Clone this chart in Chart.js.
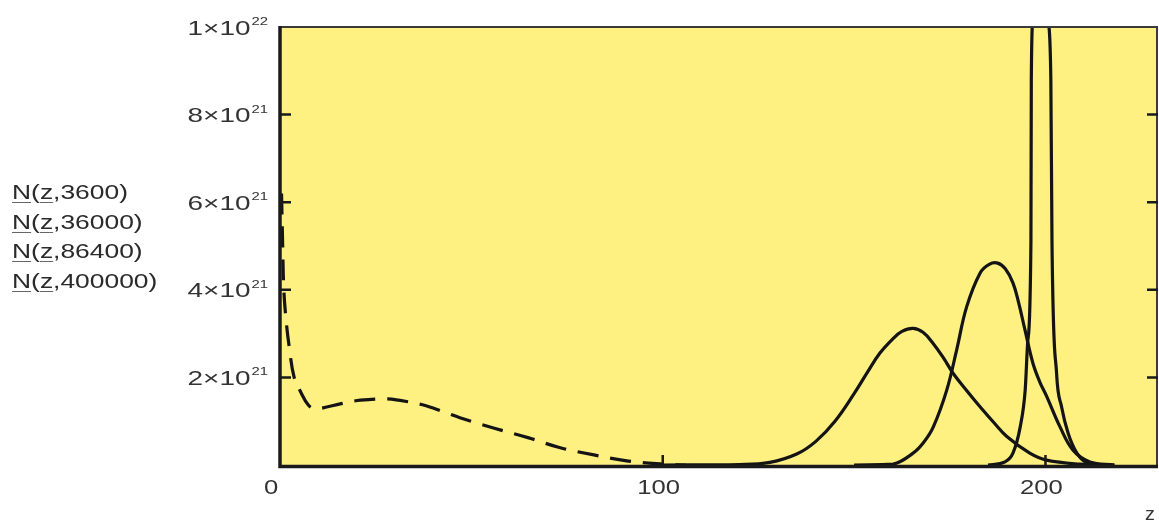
<!DOCTYPE html>
<html>
<head>
<meta charset="utf-8">
<script src="https://cdn.jsdelivr.net/npm/chart.js@4.4.1/dist/chart.umd.min.js"></script>
<style>
  body { margin: 0; background: #fff; }
  #wrap { position: relative; width: 1159px; height: 523px; }
  #legend { position: absolute; left: 12px; top: 178px; font-family: "Liberation Sans", Arial, sans-serif; font-size: 20px; color: #2a2a2a; }
  #legend div { height: 29.6px; line-height: 29.6px; transform: scaleX(1.32); transform-origin: left center; white-space: nowrap; }
  #legend u { text-decoration-thickness: 1px; text-underline-offset: 3px; text-decoration-color: #666; }
</style>
</head>
<body>
<div id="wrap">
  <canvas id="chart"></canvas>
  <div id="legend"></div>
</div>
<script>
// N(z,t) in units of 1e21, z along the x axis
const seriesNames = ['N(z,3600)', 'N(z,36000)', 'N(z,86400)', 'N(z,400000)'];

const z3600 = [0.4, 0.7, 1.0, 1.6, 2.4, 3.7, 5.5, 7.3, 9, 11, 16, 21, 28, 31, 37, 40, 47, 56, 65, 73, 82, 91, 100, 106];
const n3600 = [6.2, 5.0, 4.0, 3.3, 2.7, 2.0, 1.65, 1.38, 1.28, 1.3, 1.4, 1.48, 1.51, 1.48, 1.38, 1.3, 1.08, 0.84, 0.62, 0.4, 0.23, 0.09, 0.02, 0];

const z36000 = [100, 120, 128, 135, 140, 145, 150, 153.5, 156.7, 160, 162.5, 165.4, 168, 170.6, 173.3, 175.9, 179.5, 182.9, 186.5, 189.9, 195.9, 200.3, 209, 218];
const n36000 = [0, 0.01, 0.06, 0.25, 0.54, 1.0, 1.63, 2.12, 2.55, 2.87, 3.05, 3.12, 3.03, 2.78, 2.45, 2.09, 1.69, 1.33, 0.97, 0.65, 0.27, 0.11, 0.02, 0];

const z86400 = [150, 160.2, 165.4, 168.2, 170.7, 174.2, 176.8, 179.4, 182.9, 185.3, 187.5, 189.5, 191.5, 193, 194.6, 196.7, 198.5, 200.4, 203.8, 207.2, 211.6, 218];
const n86400 = [0, 0.02, 0.27, 0.52, 0.87, 1.71, 2.63, 3.61, 4.38, 4.58, 4.61, 4.48, 4.16, 3.7, 3.1, 2.33, 1.9, 1.55, 0.87, 0.34, 0.07, 0];

const z400000 = [185, 189.4, 191.5, 193.4, 194.7, 195.4, 196.2, 196.3, 196.7, 198.7, 200.7, 201.4, 201.7, 202.9, 204.2, 205.9, 208.2, 210.8, 214];
const n400000 = [0, 0.07, 0.27, 0.87, 1.71, 2.85, 5.1, 8.8, 10.2, 13, 10.2, 8.8, 5.1, 2.09, 1.33, 0.73, 0.27, 0.05, 0];

const xTicks = [0, 100, 200];
const yTicks = [2, 4, 6, 8, 10];
const yMantissa = ['2', '4', '6', '8', '1'];
const yExponent = ['21', '21', '21', '21', '22'];

const pts = (xs, ys) => xs.map((x, i) => ({ x: x, y: ys[i] }));

document.getElementById('legend').innerHTML = seriesNames
  .map(s => '<div>' + s.replace('N(z', '<u>N</u>(<u>z</u>') + '</div>').join('');

const lineColor = '#141414';
const font = '"Liberation Sans", Arial, sans-serif';

function stretched(ctx, text, x, y, align, sx) {
  ctx.save();
  ctx.translate(x, y);
  ctx.scale(sx, 1);
  ctx.textAlign = align;
  ctx.fillText(text, 0, 0);
  ctx.restore();
}

const framePlugin = {
  id: 'frame',
  beforeDraw(chart) {
    const { ctx, chartArea: a } = chart;
    ctx.save();
    ctx.fillStyle = '#fff';
    ctx.fillRect(0, 0, chart.width, chart.height);
    ctx.fillStyle = '#fef081';
    ctx.fillRect(a.left, a.top, a.right - a.left, a.bottom - a.top);
    ctx.restore();
  },
  afterDatasetsDraw(chart) {
    const { ctx, chartArea: a, scales: { x, y } } = chart;
    ctx.save();
    // frame
    ctx.strokeStyle = '#3a3a3a';
    ctx.lineWidth = 2;
    ctx.beginPath();
    ctx.moveTo(a.left, a.top); ctx.lineTo(a.right, a.top);
    ctx.moveTo(a.right - 1, a.top); ctx.lineTo(a.right - 1, a.bottom);
    ctx.stroke();
    ctx.strokeStyle = '#1a1a1a';
    ctx.lineWidth = 3.5;
    ctx.beginPath();
    ctx.moveTo(a.left, a.top - 1); ctx.lineTo(a.left, a.bottom + 1.5);
    ctx.lineTo(a.right, a.bottom + 1.5);
    ctx.stroke();
    // inward ticks
    ctx.lineWidth = 2.5;
    ctx.beginPath();
    yTicks.slice(0, 4).forEach(v => {
      const py = y.getPixelForValue(v);
      ctx.moveTo(a.left, py); ctx.lineTo(a.left + 11, py);
      ctx.moveTo(a.right, py); ctx.lineTo(a.right - 11, py);
    });
    xTicks.slice(1).forEach(v => {
      const px = x.getPixelForValue(v);
      ctx.moveTo(px, a.bottom); ctx.lineTo(px, a.bottom - 10);
    });
    ctx.stroke();
    // y labels
    ctx.fillStyle = '#333';
    ctx.textBaseline = 'alphabetic';
    yTicks.forEach((v, i) => {
      const py = y.getPixelForValue(v);
      ctx.font = '11px ' + font;
      const supW = ctx.measureText(yExponent[i]).width * 1.35;
      const supLeft = 268 - supW;
      stretched(ctx, yExponent[i], supLeft, py - 2, 'left', 1.35);
      ctx.font = '21px ' + font;
      stretched(ctx, yMantissa[i] + '\u00d710', supLeft - 1, py + 7.5, 'right', 1.33);
    });
    // x labels
    ctx.font = '21px ' + font;
    xTicks.forEach(v => {
      const px = x.getPixelForValue(v) - (v === 0 ? 9 : 4);
      stretched(ctx, String(v), px, a.bottom + 29, 'center', 1.22);
    });
    ctx.font = '18px ' + font;
    stretched(ctx, 'z', 1150, 520, 'center', 1.1);
    ctx.restore();
  }
};

const base = {
  showLine: true,
  pointRadius: 0,
  borderColor: lineColor,
  borderWidth: 3.2,
  tension: 0.4,
  fill: false
};

new Chart(document.getElementById('chart'), {
  type: 'scatter',
  data: {
    datasets: [
      Object.assign({}, base, { label: seriesNames[0], data: pts(z3600, n3600), borderDash: [21, 12] }),
      Object.assign({}, base, { label: seriesNames[1], data: pts(z36000, n36000) }),
      Object.assign({}, base, { label: seriesNames[2], data: pts(z86400, n86400) }),
      Object.assign({}, base, { label: seriesNames[3], data: pts(z400000, n400000), tension: 0, cubicInterpolationMode: 'monotone' })
    ]
  },
  options: {
    responsive: true,
    maintainAspectRatio: false,
    animation: false,
    layout: { padding: { left: 280, right: 1, top: 27, bottom: 58 } },
    plugins: { legend: { display: false }, tooltip: { enabled: false } },
    scales: {
      x: { type: 'linear', min: 0, max: 229.4, display: false },
      y: { type: 'linear', min: 0, max: 10, display: false }
    }
  },
  plugins: [framePlugin]
});
</script>
</body>
</html>
